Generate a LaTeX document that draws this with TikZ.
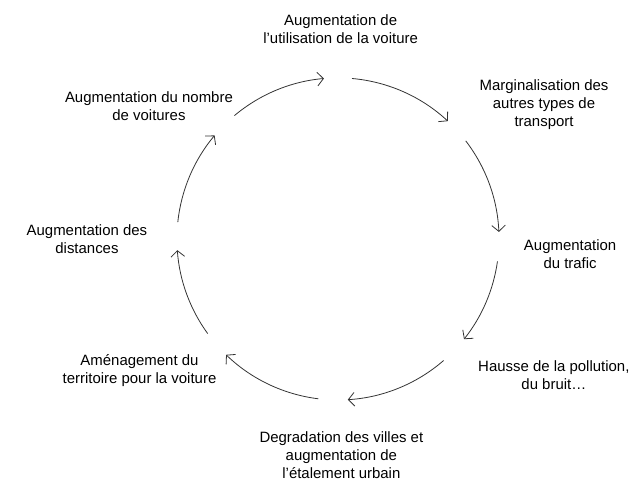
\documentclass[tikz,border=0pt]{standalone}
\usepackage{fontspec}
\setmainfont{Liberation Sans}
\usetikzlibrary{arrows.meta}
\tikzset{
  etape/.style={align=center,inner sep=0pt,font=\fontsize{11.25}{13.5}\selectfont},
  fleche/.style={draw=black!80,line width=.6pt,-{Straight Barb[length=1.6mm,width=3.6mm]}}
}
\begin{document}
\begin{tikzpicture}
\useasboundingbox (-8.94,-6.46) rectangle (7.83,6.32);
\def\r{4.26}
\node[etape] (usage) at (0.07,5.56) {Augmentation de\\l’utilisation de la voiture};
\node[etape] (margin) at (5.45,3.55) {Marginalisation des\\autres types de\\transport};
\node[etape] (trafic) at (6.14,-0.40) {Augmentation\\du trafic};
\node[etape] (pollution) at (5.71,-3.60) {Hausse de la pollution,\\du bruit…};
\node[etape] (villes) at (0.09,-5.71) {Degradation des villes et\\augmentation de\\l’étalement urbain};
\node[etape] (amenag) at (-5.25,-3.49) {Aménagement du\\territoire pour la voiture};
\node[etape] (distances) at (-6.64,0) {Augmentation des\\distances};
\node[etape] (nombre) at (-5.0,3.52) {Augmentation du nombre\\de voitures};
\foreach \a/\b in {130/95, 85/47, 37.5/2.5, -8/-38.5,
  -49/-86.5, -97/-134, -144/-176, 174/140}
    \draw[fleche] (\a:\r) arc (\a:\b:\r);
\end{tikzpicture}
\end{document}
